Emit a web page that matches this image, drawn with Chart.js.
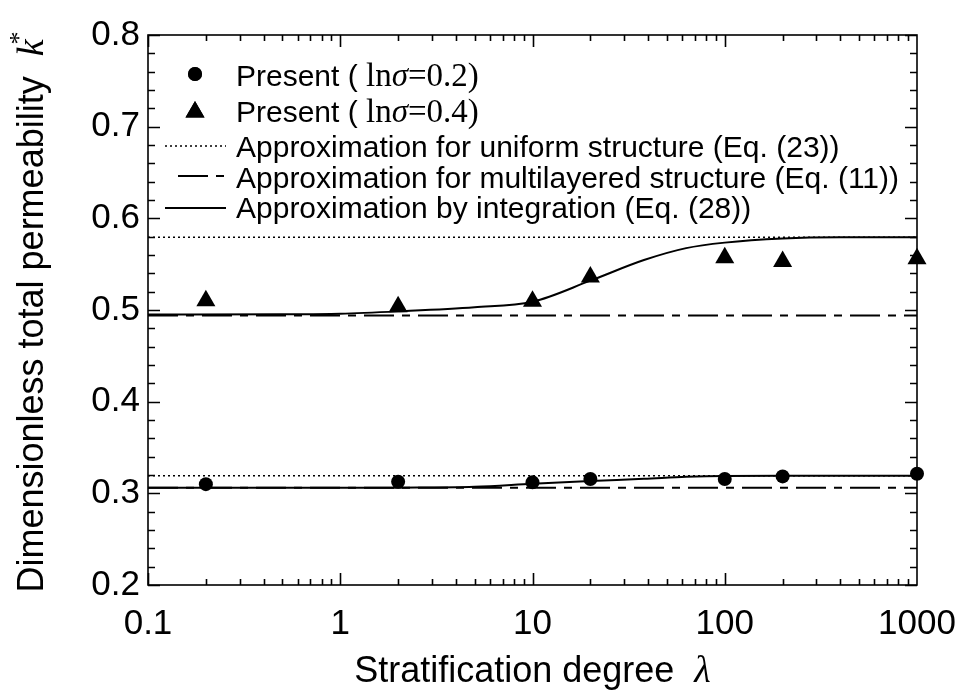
<!DOCTYPE html>
<html>
<head>
<meta charset="utf-8">
<script src="https://cdn.jsdelivr.net/npm/chart.js@4.4.1/dist/chart.umd.min.js"></script>
<style>
  html, body { margin: 0; padding: 0; background: #fff; }
  #wrap { width: 964px; height: 698px; position: relative; }
</style>
</head>
<body>
<div id="wrap"><canvas id="perm-chart"></canvas></div>
<script>
const SANS = '"Liberation Sans", Arial, sans-serif';
const SERIF = '"Liberation Serif", "Times New Roman", serif';

// computed cases (stratification degree lambda)
const lambdaPoints = [0.2, 2, 10, 20, 100, 200, 1000];
const present02 = [0.310, 0.3127, 0.312, 0.3156, 0.3156, 0.3185, 0.3214];
const present04 = [0.510, 0.5035, 0.5095, 0.536, 0.557, 0.553, 0.556];

// limiting approximations, constant over lambda
const lambdaRange = [0.1, 1000];
const uniform02 = [0.3192, 0.3192];
const uniform04 = [0.5793, 0.5793];
const multi02 = [0.306, 0.306];
const multi04 = [0.494, 0.494];

// approximation by integration (Eq. 28)
const curveLambda = [0.1, 0.5, 1, 2, 5, 10, 20, 38, 63, 100, 200, 400, 1000];
const integ02 = [0.306, 0.306, 0.306, 0.3062, 0.3072, 0.3105, 0.3135, 0.3158, 0.318, 0.319, 0.3192, 0.3192, 0.3192];
const integ04 = [0.495, 0.4953, 0.496, 0.4985, 0.503, 0.509, 0.532, 0.5545, 0.5675, 0.5735, 0.578, 0.5793, 0.5793];

const xTicks = [0.1, 1, 10, 100, 1000];
const yTicks = [0.2, 0.3, 0.4, 0.5, 0.6, 0.7, 0.8];

const DOTTED = [2, 3];
const DASHDOT = [30, 8, 8, 8];

function pts(xs, ys) {
    return xs.map((x, i) => ({ x: x, y: ys[i] }));
}

function lineSet(xs, ys, dash) {
    return {
        data: pts(xs, ys),
        borderColor: "#000",
        borderWidth: dash === DOTTED ? 1.6 : 2,
        borderDash: dash,
        pointRadius: 0,
        fill: false,
        cubicInterpolationMode: "monotone"
    };
}

function markerSet(ys, style, r) {
    return {
        data: pts(lambdaPoints, ys),
        showLine: false,
        pointStyle: style,
        pointRadius: r,
        pointBackgroundColor: "#000",
        pointBorderColor: "#000",
        pointBorderWidth: 0,
        clip: false
    };
}

// draws a row of text pieces that use different fonts
function richText(ctx, x, y, parts) {
    parts.forEach((p) => {
        ctx.font = p.font;
        ctx.fillText(p.text, x, y);
        x += ctx.measureText(p.text).width;
    });
    return x;
}

function richWidth(ctx, parts) {
    let w = 0;
    parts.forEach((p) => {
        ctx.font = p.font;
        w += ctx.measureText(p.text).width;
    });
    return w;
}

const legendFont = "30px " + SANS;
const legendSerif = "33px " + SERIF;
const legendSerifIt = "italic 33px " + SERIF;

function presentLabel(val) {
    return [
        { text: "Present ( ", font: legendFont },
        { text: "ln", font: legendSerif },
        { text: "\u03c3", font: legendSerifIt },
        { text: "=" + val + ")", font: legendSerif }
    ];
}

const legendRows = [
    { kind: "circle", parts: presentLabel("0.2") },
    { kind: "triangle", parts: presentLabel("0.4") },
    { kind: "line", dash: DOTTED, width: 1.6, parts: [{ text: "Approximation for uniform structure (Eq. (23))", font: legendFont }] },
    { kind: "line", dash: DASHDOT, width: 2, start: 178, parts: [{ text: "Approximation for multilayered structure (Eq. (11))", font: legendFont }] },
    { kind: "line", dash: [], width: 2, parts: [{ text: "Approximation by integration (Eq. (28))", font: legendFont }] }
];
const legendBase = [86, 122, 157, 188, 218];
const legendMark = [74, 110, 146, 176, 208];

const legendPlugin = {
    id: "richLegend",
    afterDraw(chart) {
        const ctx = chart.ctx;
        ctx.save();
        ctx.fillStyle = "#000";
        ctx.strokeStyle = "#000";
        legendRows.forEach((row, i) => {
            const my = legendMark[i];
            if (row.kind === "circle") {
                Chart.helpers.drawPoint(ctx, { pointStyle: "circle", radius: 7, borderWidth: 0 }, 195, my);
                ctx.fill();
            } else if (row.kind === "triangle") {
                Chart.helpers.drawPoint(ctx, { pointStyle: "triangle", radius: 11, borderWidth: 0 }, 195, my + 2);
                ctx.fill();
            } else {
                ctx.beginPath();
                ctx.setLineDash(row.dash);
                ctx.lineWidth = row.width;
                ctx.moveTo(row.start || 165, my);
                ctx.lineTo(226, my);
                ctx.stroke();
                ctx.setLineDash([]);
            }
            ctx.textBaseline = "alphabetic";
            ctx.textAlign = "left";
            richText(ctx, 236, legendBase[i], row.parts);
        });
        ctx.restore();
    }
};

// frame plus inward major and minor ticks on all four sides
const frameTicksPlugin = {
    id: "frameTicks",
    afterDraw(chart) {
        const { ctx, chartArea: a, scales } = chart;
        const xs = scales.x, ys = scales.y;
        ctx.save();
        ctx.strokeStyle = "#000";
        ctx.lineWidth = 1.6;
        ctx.strokeRect(a.left, a.top, a.right - a.left, a.bottom - a.top);
        ctx.beginPath();
        xTicks.slice(0, -1).forEach((d) => {
            for (let m = 1; m <= 9; m++) {
                const px = Math.round(xs.getPixelForValue(d * m)) + 0.5;
                const len = m === 1 ? 12 : 6;
                ctx.moveTo(px, a.bottom); ctx.lineTo(px, a.bottom - len);
                ctx.moveTo(px, a.top); ctx.lineTo(px, a.top + len);
            }
        });
        for (let k = 0; k <= 30; k++) {
            const v = 0.2 + k * 0.02;
            const py = Math.round(ys.getPixelForValue(v)) + 0.5;
            const len = k % 5 === 0 ? 12 : 7;
            ctx.moveTo(a.left, py); ctx.lineTo(a.left + len, py);
            ctx.moveTo(a.right, py); ctx.lineTo(a.right - len, py);
        }
        ctx.stroke();
        ctx.restore();
    }
};

const axisTitlePlugin = {
    id: "axisTitles",
    afterDraw(chart) {
        const { ctx, chartArea: a } = chart;
        ctx.save();
        ctx.fillStyle = "#000";
        ctx.textBaseline = "alphabetic";
        const xParts = [
            { text: "Stratification degree  ", font: "36px " + SANS },
            { text: "\u03bb", font: "italic 38px " + SERIF }
        ];
        const xw = richWidth(ctx, xParts);
        richText(ctx, (a.left + a.right) / 2 - xw / 2, 682, xParts);

        const yParts = [
            { text: "Dimensionless total permeability  ", font: "36px " + SANS },
            { text: "k", font: "italic 38px " + SERIF }
        ];
        const yw = richWidth(ctx, yParts);
        ctx.translate(43, (a.top + a.bottom) / 2);
        ctx.rotate(-Math.PI / 2);
        const end = richText(ctx, -yw / 2 - 6, 0, yParts);
        ctx.font = "26px " + SERIF;
        ctx.fillText("*", end - 5, -16);
        ctx.restore();
    }
};

new Chart(document.getElementById("perm-chart"), {
    type: "line",
    data: {
        datasets: [
            lineSet(lambdaRange, uniform04, DOTTED),
            lineSet(lambdaRange, uniform02, DOTTED),
            lineSet(lambdaRange, multi04, DASHDOT),
            lineSet(lambdaRange, multi02, DASHDOT),
            lineSet(curveLambda, integ04, []),
            lineSet(curveLambda, integ02, []),
            markerSet(present02, "circle", 7),
            markerSet(present04, "triangle", 11)
        ]
    },
    options: {
        responsive: true,
        maintainAspectRatio: false,
        animation: false,
        layout: { padding: { top: 35, right: 47, left: 0, bottom: 0 } },
        plugins: {
            legend: { display: false },
            tooltip: { enabled: false }
        },
        scales: {
            x: {
                type: "logarithmic",
                min: 0.1,
                max: 1000,
                grid: { display: false, drawTicks: false },
                border: { display: false },
                afterBuildTicks: (scale) => { scale.ticks = xTicks.map((v) => ({ value: v })); },
                afterFit: (scale) => {
                    scale.height = 113;
                    // the end labels may hang past the frame
                    scale.paddingLeft = 0;
                    scale.paddingRight = 0;
                },
                ticks: {
                    autoSkip: false,
                    maxRotation: 0,
                    padding: 18,
                    color: "#000",
                    font: { family: SANS, size: 35 },
                    callback: (v) => String(v)
                }
            },
            y: {
                min: 0.2,
                max: 0.8,
                grid: { display: false, drawTicks: false },
                border: { display: false },
                afterBuildTicks: (scale) => { scale.ticks = yTicks.map((v) => ({ value: v })); },
                afterFit: (scale) => {
                    scale.width = 148;
                    scale.paddingTop = 0;
                    scale.paddingBottom = 0;
                },
                ticks: {
                    padding: 8,
                    color: "#000",
                    font: { family: SANS, size: 35 },
                    callback: (v) => v.toFixed(1)
                }
            }
        }
    },
    plugins: [frameTicksPlugin, legendPlugin, axisTitlePlugin]
});
</script>
</body>
</html>
